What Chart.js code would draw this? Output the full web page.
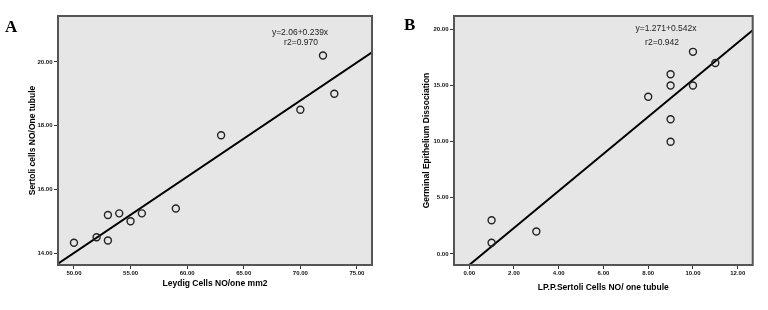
<!DOCTYPE html>
<html><head><meta charset="utf-8">
<script src="https://cdn.jsdelivr.net/npm/chart.js@4"></script>
<style>
html,body{margin:0;padding:0;background:#fff;width:768px;height:310px;overflow:hidden}
canvas{position:absolute;top:0}
#a{left:0}#b{left:384px}
</style></head><body>
<canvas id="a" width="384" height="310"></canvas>
<canvas id="b" width="384" height="310"></canvas>
<script>
// Panel A data
const leydigA  = [72, 73, 70, 63, 59, 53, 54, 56, 55, 52, 53, 50];
const sertoliA = [20.2, 19.0, 18.5, 17.7, 15.4, 15.2, 15.25, 15.25, 15.0, 14.5, 14.4, 14.33];
const fitAX = [48.59, 76.33];
const fitAY = [13.67, 20.30];
const xTicksA = [50, 55, 60, 65, 70, 75];
const yTicksA = [14, 16, 18, 20];

// Panel B data
const lppB  = [10, 11, 9, 9, 10, 8, 9, 9, 1, 1, 3];
const germB = [18, 17, 16, 15, 15, 14, 12, 10, 3, 1, 2];
const fitBX = [0, 12.67];
const fitBY = [-0.98, 19.92];
const xTicksB = [0, 2, 4, 6, 8, 10, 12];
const yTicksB = [0, 5, 10, 15, 20];

const FONT = "'Liberation Sans', Arial, sans-serif";

const framePlugin = {
  id: 'frame',
  beforeDatasetsDraw(chart) {
    const {ctx, chartArea: a} = chart;
    ctx.save();
    ctx.fillStyle = '#e6e6e6';
    ctx.fillRect(a.left, a.top, a.right - a.left, a.bottom - a.top);
    ctx.restore();
  },
  afterDraw(chart) {
    const {ctx, chartArea: a} = chart;
    const o = chart.options.plugins.frame;
    ctx.save();
    ctx.strokeStyle = '#555';
    ctx.lineWidth = 2;
    ctx.strokeRect(a.left, a.top, a.right - a.left, a.bottom - a.top);
    ctx.fillStyle = '#000';
    ctx.font = "bold 17px 'Liberation Serif', 'Times New Roman', serif";
    ctx.textAlign = 'left';
    ctx.textBaseline = 'alphabetic';
    ctx.fillText(o.letter, o.letterX, o.letterY);
    ctx.font = "8.5px " + FONT;
    ctx.fillStyle = '#222';
    ctx.textAlign = 'center';
    ctx.textBaseline = 'middle';
    o.notes.forEach(n => ctx.fillText(n.text, n.x, n.y));
    ctx.restore();
  }
};

function makeChart(id, cfg) {
  const tickFont = {family: FONT, size: 6, weight: 'bold'};
  const titleFont = {family: FONT, size: 8.5, weight: 'bold'};
  return new Chart(document.getElementById(id), {
    type: 'scatter',
    data: {
      datasets: [
        {
          data: cfg.xs.map((x, i) => ({x, y: cfg.ys[i]})),
          pointStyle: 'circle', pointRadius: 3.5, borderWidth: 1.4,
          borderColor: '#222', backgroundColor: 'rgba(0,0,0,0)', showLine: false
        },
        {
          type: 'line',
          data: cfg.lx.map((x, i) => ({x, y: cfg.ly[i]})),
          borderColor: '#000', borderWidth: 2, pointRadius: 0, fill: false
        }
      ]
    },
    options: {
      responsive: false, animation: false, devicePixelRatio: 1,
      layout: {padding: {left: 0, top: 16, right: cfg.padRight, bottom: 0}},
      plugins: {
        legend: {display: false}, tooltip: {enabled: false},
        frame: {letter: cfg.letter, letterX: cfg.letterX, letterY: cfg.letterY, notes: cfg.notes}
      },
      scales: {
        x: {
          type: 'linear', min: cfg.xmin, max: cfg.xmax,
          afterBuildTicks: s => { s.ticks = cfg.xt.map(v => ({value: v})); },
          afterFit: s => { s.height = 45; },
          grid: {drawOnChartArea: false, drawTicks: true, tickLength: 4, color: '#333'},
          border: {display: false},
          ticks: {font: tickFont, color: '#111', padding: 1, maxRotation: 0, autoSkip: false,
                  callback: v => Number(v).toFixed(2)},
          title: {display: true, text: cfg.xtitle, font: titleFont, color: '#000',
                  padding: {top: 0, bottom: cfg.xTitlePad}}
        },
        y: {
          type: 'linear', min: cfg.ymin, max: cfg.ymax,
          afterBuildTicks: s => { s.ticks = cfg.yt.map(v => ({value: v})); },
          afterFit: s => { s.width = cfg.yWidth; },
          grid: {drawOnChartArea: false, drawTicks: true, tickLength: 4, color: '#333'},
          border: {display: false},
          ticks: {font: tickFont, color: '#111', padding: 1.5, autoSkip: false,
                  callback: v => Number(v).toFixed(2)},
          title: {display: true, text: cfg.ytitle, font: titleFont, color: '#000',
                  padding: {top: cfg.yTitlePad, bottom: 0}}
        }
      }
    },
    plugins: [framePlugin]
  });
}

makeChart('a', {
  xs: leydigA, ys: sertoliA, lx: fitAX, ly: fitAY,
  xt: xTicksA, yt: yTicksA,
  xmin: 48.59, xmax: 76.33, ymin: 13.63, ymax: 21.44,
  padRight: 12, yWidth: 58, xTitlePad: 21, yTitlePad: 28,
  xtitle: 'Leydig Cells NO/one mm2', ytitle: 'Sertoli cells NO/One tubule',
  letter: 'A', letterX: 5, letterY: 32,
  notes: [{text: 'y=2.06+0.239x', x: 300, y: 33}, {text: 'r2=0.970', x: 301, y: 43}]
});

makeChart('b', {
  xs: lppB, ys: germB, lx: fitBX, ly: fitBY,
  xt: xTicksB, yt: yTicksB,
  xmin: -0.68, xmax: 12.67, ymin: -0.98, ymax: 21.19,
  padRight: 15.3, yWidth: 70, xTitlePad: 17, yTitlePad: 38,
  xtitle: 'LP.P.Sertoli Cells NO/ one tubule', ytitle: 'Germinal Epithelium Dissociation',
  letter: 'B', letterX: 20, letterY: 30,
  notes: [{text: 'y=1.271+0.542x', x: 282, y: 29}, {text: 'r2=0.942', x: 278, y: 43}]
});
</script>
</body></html>
